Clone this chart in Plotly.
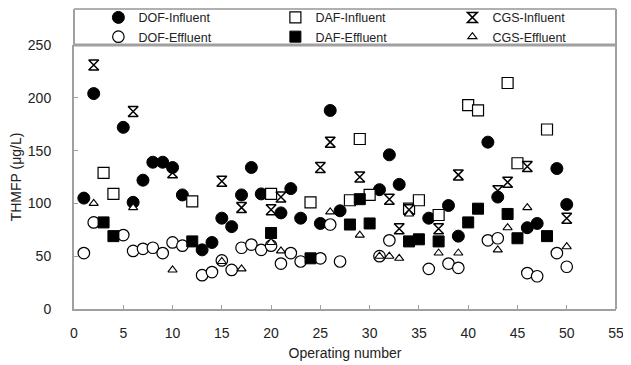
import plotly.graph_objects as go

# ---- data ----
dof_inf_x = [1, 2, 5, 6, 7, 8, 9, 10, 11, 13, 14, 15, 16, 17, 18, 19, 21, 22, 23, 25, 26, 27, 31, 32, 33, 36, 38, 39, 42, 43, 46, 47, 49, 50]
dof_inf_y = [105, 204, 172, 101, 122, 139, 139, 134, 108, 56, 63, 86, 78, 108, 134, 109, 91, 114, 86, 81, 188, 93, 113, 146, 118, 86, 98, 69, 158, 106, 77, 81, 133, 99]

dof_eff_x = [1, 2, 5, 6, 7, 8, 9, 10, 11, 13, 14, 15, 16, 17, 18, 19, 20, 21, 22, 23, 25, 26, 27, 31, 32, 36, 38, 39, 42, 43, 46, 47, 49, 50]
dof_eff_y = [53, 82, 70, 55, 57, 58, 53, 63, 60, 32, 35, 46, 37, 58, 61, 56, 60, 43, 53, 45, 48, 80, 45, 50, 65, 38, 43, 39, 65, 67, 34, 31, 53, 40]

daf_inf_x = [3, 4, 12, 20, 24, 28, 29, 30, 34, 35, 37, 40, 41, 44, 45, 48]
daf_inf_y = [129, 109, 102, 109, 101, 103, 161, 108, 95, 103, 89, 193, 188, 214, 138, 170]

daf_eff_x = [3, 4, 12, 20, 24, 28, 29, 30, 34, 35, 37, 40, 41, 44, 45, 48]
daf_eff_y = [82, 69, 64, 72, 48, 80, 104, 81, 64, 66, 64, 82, 95, 90, 67, 69]

cgs_inf_x = [2, 6, 10, 15, 17, 20, 21, 25, 26, 29, 32, 33, 34, 37, 39, 43, 44, 46, 50]
cgs_inf_y = [231, 187, 129, 121, 96, 94, 106, 134, 158, 125, 104, 76, 94, 76, 127, 112, 120, 135, 86]

cgs_eff_x = [2, 6, 10, 15, 17, 20, 21, 26, 29, 31, 32, 33, 34, 37, 39, 43, 44, 46, 50]
cgs_eff_y = [100, 96, 37, 45, 38, 63, 55, 92, 70, 50, 50, 48, 90, 53, 53, 56, 77, 96, 59]

x_ticks = [0, 5, 10, 15, 20, 25, 30, 35, 40, 45, 50, 55]
y_ticks = [0, 50, 100, 150, 200, 250]

FONT = "Liberation Sans, Arial, sans-serif"

fig = go.Figure()

def add(name, xs, ys, symbol, size, color, lw, rank):
    fig.add_trace(go.Scatter(
        x=xs, y=ys, mode="markers", name=name, legendrank=rank,
        marker=dict(symbol=symbol, size=size, color=color,
                    line=dict(color="black", width=lw)),
        cliponaxis=False,
    ))

add("DOF-Influent", dof_inf_x, dof_inf_y, "circle", 12, "black", 1, 1)
add("DOF-Effluent", dof_eff_x, dof_eff_y, "circle", 11.5, "white", 1.2, 4)
add("DAF-Influent", daf_inf_x, daf_inf_y, "square", 11, "white", 1.2, 2)
add("DAF-Effluent", daf_eff_x, daf_eff_y, "square", 11, "black", 1, 5)
add("CGS-Influent", cgs_inf_x, cgs_inf_y, "hourglass-open", 10, "black", 1.5, 3)
add("CGS-Effluent", cgs_eff_x, cgs_eff_y, "triangle-up", 8, "white", 1.1, 6)

axis_common = dict(
    showline=True, linecolor="#a0a0a0", linewidth=2, mirror=False,
    ticks="inside", ticklen=4, tickcolor="#a0a0a0", tickwidth=1,
    showgrid=False, zeroline=False,
    tickfont=dict(family=FONT, size=14, color="#222"),
)

# the page body adds an 8 px offset, so the figure is 8 px smaller
fig.update_layout(
    width=623, height=357,
    margin=dict(l=66, r=15, t=37, b=56, autoexpand=False),
    paper_bgcolor="white", plot_bgcolor="white",
    font=dict(family=FONT, size=14, color="#222"),
    xaxis=dict(range=[0, 55], tickvals=x_ticks, ticklabelstandoff=10,
               title=dict(text="Operating number", font=dict(family=FONT, size=14, color="#222"), standoff=8),
               **axis_common),
    yaxis=dict(range=[0, 250], tickvals=y_ticks, ticklabelstandoff=18,
               title=dict(text="THMFP (μg/L)", font=dict(family=FONT, size=14, color="#222"), standoff=10),
               **axis_common),
    showlegend=True,
    legend=dict(
        orientation="h", x=0.045, xanchor="left", y=1.16, yanchor="top",
        entrywidth=132, entrywidthmode="pixels",
        font=dict(family=FONT, size=12.5, color="#222"),
        bgcolor="rgba(0,0,0,0)", itemsizing="trace", tracegroupgap=0,
    ),
    shapes=[
        dict(type="line", xref="paper", yref="paper", x0=1, x1=1, y0=0, y1=1.136,
             line=dict(color="#a0a0a0", width=2)),
        dict(type="line", xref="paper", yref="paper", x0=0, x1=0, y0=1, y1=1.136,
             line=dict(color="#a0a0a0", width=2)),
        dict(type="line", xref="paper", yref="paper", x0=0, x1=1, y0=1.136, y1=1.136,
             line=dict(color="#b0b0b0", width=2)),
        dict(type="line", xref="paper", yref="paper", x0=0, x1=1, y0=1, y1=1,
             line=dict(color="#a0a0a0", width=3)),
    ],
)

fig.write_html("out.html")
